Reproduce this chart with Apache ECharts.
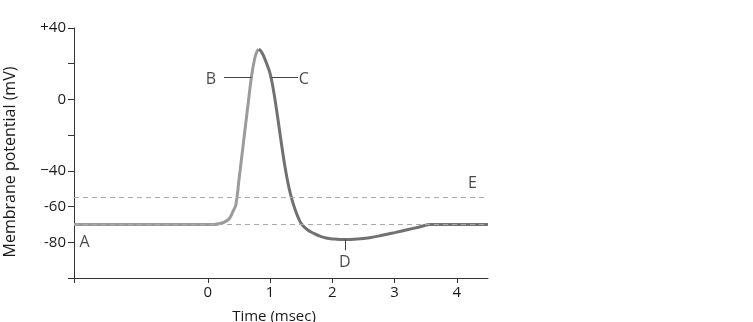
<!DOCTYPE html>
<html>
<head>
<meta charset="utf-8">
<script src="https://cdn.jsdelivr.net/npm/echarts@6/dist/echarts.min.js"></script>
<style>html,body{margin:0;padding:0;background:#fff}#c{width:753px;height:322px}</style>
</head>
<body>
<div id="c"></div>
<script>
// Rising phase (lighter) and falling/undershoot phase (darker)
const riseT = [-2.15, -1, 0, 0.1, 0.2, 0.3, 0.35, 0.4, 0.45, 0.5, 0.55, 0.6, 0.65, 0.7, 0.75, 0.79, 0.815];
const riseV = [-70, -70, -70, -70, -69.5, -68, -66.5, -63, -59, -45, -30.5, -16, -1.5, 12.5, 22.5, 27, 28];
const fallT = [0.815, 0.85, 0.9, 0.95, 1.0, 1.05, 1.1, 1.15, 1.2, 1.25, 1.3, 1.35, 1.4, 1.45, 1.5, 1.6, 1.7, 1.8, 1.9, 2.0, 2.2, 2.4, 2.6, 2.8, 3.0, 3.2, 3.4, 3.58, 4.0, 4.5];
const fallV = [28, 27.2, 24, 19.5, 14.5, 6, -5, -17, -29, -40, -49, -56, -61.5, -66, -69.5, -73, -75, -76.6, -77.6, -78.1, -78.5, -78.2, -77.4, -76.1, -74.6, -73, -71.4, -70, -70, -70];
// Reference lines: threshold (E) and resting potential
const thresholdV = -55;
const restingV = -70;
// Axis ticks
const xTicks = [-2.15, 0, 1, 2, 3, 4];
const xLabels = [0, 1, 2, 3, 4];
const yLabelMap = {"40": "+40", "0": "0", "-40": "\u221240", "-60": "-60", "-80": "-80"};
// Annotation letters [t, v, text]
const notes = [[-1.98, -80, "A"], [0.05, 11, "B"], [1.54, 11, "C"], [2.2, -91.5, "D"], [4.25, -47, "E"]];
// Leader segments
const leaderB = [[0.26, 12.5], [0.70, 12.5]];
const leaderC = [[1.02, 12.5], [1.45, 12.5]];
const leaderD = [[2.2, -78.5], [2.2, -84.5]];

const zip = (a, b) => a.map((x, i) => [x, b[i]]);
const FONT = "Open Sans";
const TXT = '#1a1a1a';
const chart = echarts.init(document.getElementById('c'));
chart.setOption({
  animation: false,
  grid: {left: 74, right: 265, top: 28, bottom: 44, containLabel: false, outerBoundsMode: 'none'},
  xAxis: {
    type: 'value', min: -2.15, max: 4.5,
    name: 'Time (msec)', nameLocation: 'middle', nameGap: 31,
    nameTextStyle: {fontFamily: FONT, fontSize: 15, color: TXT, padding: [0, 14, 0, 0]},
    axisLine: {onZero: false, lineStyle: {color: '#333', width: 1}},
    axisTick: {show: true, length: 5, customValues: xTicks, lineStyle: {color: '#333'}},
    axisLabel: {customValues: xLabels, fontFamily: FONT, fontSize: 15, color: TXT, margin: 7},
    splitLine: {show: false}
  },
  yAxis: {
    type: 'value', min: -100, max: 40, interval: 20,
    name: 'Membrane potential (mV)', nameLocation: 'middle', nameGap: 56,
    nameTextStyle: {fontFamily: FONT, fontSize: 16, color: TXT, padding: [0, 18, 0, 0]},
    axisLine: {show: true, onZero: false, lineStyle: {color: '#333', width: 1}},
    axisTick: {show: true, length: 6, lineStyle: {color: '#333'}},
    axisLabel: {fontFamily: FONT, fontSize: 15, color: TXT, margin: 8,
      formatter: v => yLabelMap[String(v)] || ''},
    splitLine: {show: false}
  },
  series: [
    {
      type: 'line', data: [], silent: true,
      markLine: {
        symbol: 'none', silent: true, label: {show: false},
        lineStyle: {type: [5, 4], color: '#aaa', width: 1},
        data: [{yAxis: thresholdV}, {yAxis: restingV}]
      }
    },
    {
      type: 'line', data: zip(riseT, riseV), smooth: 0.4, showSymbol: false,
      lineStyle: {color: '#9b9b9b', width: 3}, z: 3
    },
    {
      type: 'line', data: zip(fallT, fallV), smooth: 0.4, showSymbol: false,
      lineStyle: {color: '#717171', width: 3}, z: 3
    },
    {
      type: 'line', data: [], silent: true,
      markLine: {
        symbol: 'none', silent: true, label: {show: false},
        lineStyle: {type: 'solid', color: '#444', width: 1},
        data: [leaderB, leaderC, leaderD].map(s => [{coord: s[0]}, {coord: s[1]}])
      }
    },
    {
      type: 'scatter', symbolSize: 0, silent: true,
      data: notes.map(n => ({value: [n[0], n[1]], name: n[2]})),
      label: {show: true, position: 'inside', formatter: p => p.name,
        fontFamily: FONT, fontSize: 16, color: TXT}
    }
  ]
});
</script>
</body>
</html>
